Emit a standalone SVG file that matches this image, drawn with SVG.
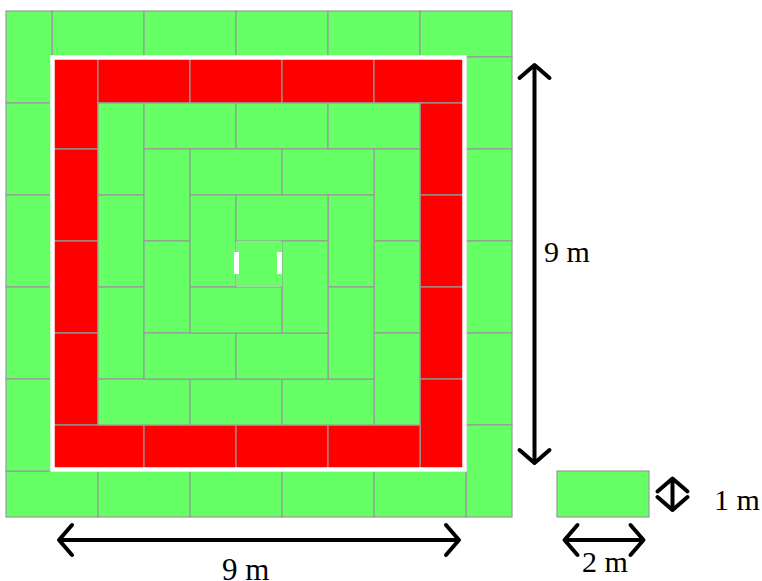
<svg xmlns="http://www.w3.org/2000/svg" width="762" height="581" viewBox="0 0 762 581">
<style>
.g{fill:#66ff66;stroke:#999;stroke-width:1.2}
.r{fill:#ff0000;stroke:#999;stroke-width:1.2}
.frame{fill:none;stroke:#fff;stroke-width:4.5}
.mark{fill:#fff}
.arrow{stroke:#000;stroke-width:4;fill:none;marker-start:url(#head);marker-end:url(#head)}
.lbl{font-family:"Liberation Serif","Times New Roman",serif;font-size:30px;fill:#000}
</style>
<defs>
<marker id="head" markerUnits="userSpaceOnUse" orient="auto-start-reverse" refX="0" refY="0" markerWidth="40" markerHeight="40" overflow="visible">
<path d="M-13,-15 L0,0 L-13,15" fill="none" stroke="#000" stroke-width="4" stroke-linecap="round" stroke-linejoin="round"/>
</marker>
</defs>
<rect width="762" height="581" fill="#fff"/>
<g id="ring0">
<rect class="g" x="52" y="11" width="92" height="46"/>
<rect class="g" x="144" y="11" width="92" height="46"/>
<rect class="g" x="236" y="11" width="92" height="46"/>
<rect class="g" x="328" y="11" width="92" height="46"/>
<rect class="g" x="420" y="11" width="92" height="46"/>
<rect class="g" x="466" y="57" width="46" height="92"/>
<rect class="g" x="466" y="149" width="46" height="92"/>
<rect class="g" x="466" y="241" width="46" height="92"/>
<rect class="g" x="466" y="333" width="46" height="92"/>
<rect class="g" x="466" y="425" width="46" height="92"/>
<rect class="g" x="6" y="471" width="92" height="46"/>
<rect class="g" x="98" y="471" width="92" height="46"/>
<rect class="g" x="190" y="471" width="92" height="46"/>
<rect class="g" x="282" y="471" width="92" height="46"/>
<rect class="g" x="374" y="471" width="92" height="46"/>
<rect class="g" x="6" y="11" width="46" height="92"/>
<rect class="g" x="6" y="103" width="46" height="92"/>
<rect class="g" x="6" y="195" width="46" height="92"/>
<rect class="g" x="6" y="287" width="46" height="92"/>
<rect class="g" x="6" y="379" width="46" height="92"/>
</g>
<g id="ring1">
<rect class="r" x="52" y="57" width="46" height="92"/>
<rect class="r" x="52" y="149" width="46" height="92"/>
<rect class="r" x="52" y="241" width="46" height="92"/>
<rect class="r" x="52" y="333" width="46" height="92"/>
<rect class="r" x="98" y="57" width="92" height="46"/>
<rect class="r" x="190" y="57" width="92" height="46"/>
<rect class="r" x="282" y="57" width="92" height="46"/>
<rect class="r" x="374" y="57" width="92" height="46"/>
<rect class="r" x="420" y="103" width="46" height="92"/>
<rect class="r" x="420" y="195" width="46" height="92"/>
<rect class="r" x="420" y="287" width="46" height="92"/>
<rect class="r" x="420" y="379" width="46" height="92"/>
<rect class="r" x="52" y="425" width="92" height="46"/>
<rect class="r" x="144" y="425" width="92" height="46"/>
<rect class="r" x="236" y="425" width="92" height="46"/>
<rect class="r" x="328" y="425" width="92" height="46"/>
</g>
<g id="ring2">
<rect class="g" x="98" y="103" width="46" height="92"/>
<rect class="g" x="98" y="195" width="46" height="92"/>
<rect class="g" x="98" y="287" width="46" height="92"/>
<rect class="g" x="144" y="103" width="92" height="46"/>
<rect class="g" x="236" y="103" width="92" height="46"/>
<rect class="g" x="328" y="103" width="92" height="46"/>
<rect class="g" x="374" y="149" width="46" height="92"/>
<rect class="g" x="374" y="241" width="46" height="92"/>
<rect class="g" x="374" y="333" width="46" height="92"/>
<rect class="g" x="98" y="379" width="92" height="46"/>
<rect class="g" x="190" y="379" width="92" height="46"/>
<rect class="g" x="282" y="379" width="92" height="46"/>
</g>
<g id="ring3">
<rect class="g" x="144" y="149" width="46" height="92"/>
<rect class="g" x="144" y="241" width="46" height="92"/>
<rect class="g" x="190" y="149" width="92" height="46"/>
<rect class="g" x="282" y="149" width="92" height="46"/>
<rect class="g" x="328" y="195" width="46" height="92"/>
<rect class="g" x="328" y="287" width="46" height="92"/>
<rect class="g" x="144" y="333" width="92" height="46"/>
<rect class="g" x="236" y="333" width="92" height="46"/>
</g>
<g id="ring4">
<rect class="g" x="190" y="195" width="46" height="92"/>
<rect class="g" x="236" y="195" width="92" height="46"/>
<rect class="g" x="282" y="241" width="46" height="92"/>
<rect class="g" x="190" y="287" width="92" height="46"/>
<rect x="236.6" y="241.6" width="44.8" height="44.8" fill="#66ff66"/>
</g>
<g id="frame">
<rect class="frame" x="52.5" y="57.5" width="412" height="412"/>
<rect class="mark" x="234" y="252" width="5" height="22"/>
<rect class="mark" x="277" y="252" width="5" height="22"/>
</g>
<g id="unit-tile">
<rect class="g" x="557" y="471" width="92" height="46"/>
</g>
<g id="connectors">
<line class="arrow" x1="534.5" y1="65" x2="534.5" y2="463"/>
<line class="arrow" x1="59" y1="540" x2="459" y2="540"/>
<line class="arrow" x1="672.5" y1="478.5" x2="672.5" y2="510"/>
<line class="arrow" x1="564.5" y1="540" x2="643.5" y2="540"/>
</g>
<g id="labels">
<text class="lbl" x="544" y="262">9 m</text>
<text class="lbl" x="222" y="580" style="font-size:31px">9 m</text>
<text class="lbl" x="714" y="510">1 m</text>
<text class="lbl" x="582" y="572">2 m</text>
</g>
</svg>
